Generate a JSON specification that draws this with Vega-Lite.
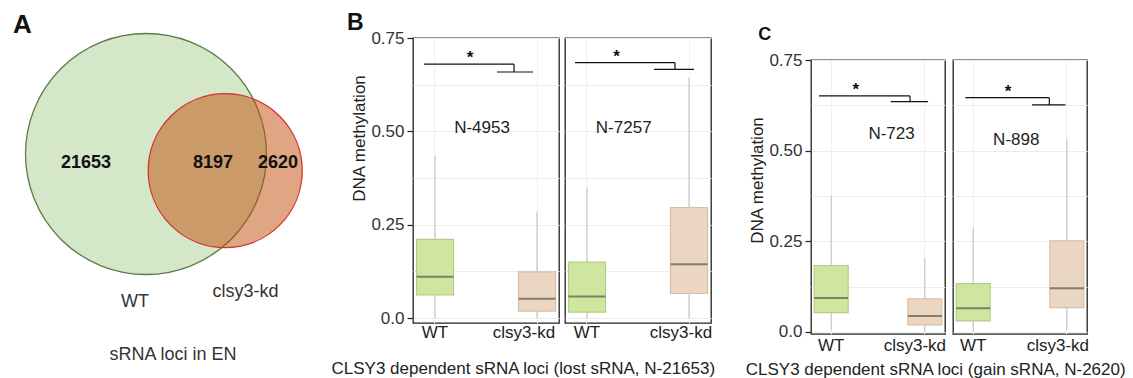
{
  "$schema": "https://vega.github.io/schema/vega-lite/v6.json",
  "padding": {"top": 11, "left": 0, "right": 0, "bottom": 0},
  "background": "white",
  "config": {
    "font": "Liberation Sans",
    "view": {"stroke": "#222222", "strokeWidth": 1.3},
    "title": {"font": "Liberation Sans", "color": "#111111"},
    "text": {"font": "Liberation Sans"}
  },
  "datasets": {
    "venn": [
      {"set": "WT", "total": 29850, "cx": 0, "cy": 0},
      {"set": "clsy3-kd", "total": 10817, "cx": 0.66, "cy": -0.139}
    ],
    "vennText": [
      {"label": "21653", "x": -0.5, "y": -0.079, "kind": "count"},
      {"label": "8197", "x": 0.558, "y": -0.079, "kind": "count"},
      {"label": "2620", "x": 1.1, "y": -0.079, "kind": "count"},
      {"label": "WT", "x": -0.092, "y": -1.232, "kind": "name"},
      {"label": "clsy3-kd", "x": 0.829, "y": -1.15, "kind": "name"},
      {"label": "sRNA loci in EN", "x": 0.225, "y": -1.675, "kind": "name"}
    ],
    "boxes": [
      {"panel": "B1", "genotype": "WT", "lo": 0, "q1": 0.062, "med": 0.111, "q3": 0.211, "hi": 0.434},
      {"panel": "B1", "genotype": "clsy3-kd", "lo": 0, "q1": 0.019, "med": 0.052, "q3": 0.124, "hi": 0.285},
      {"panel": "B2", "genotype": "WT", "lo": 0, "q1": 0.016, "med": 0.058, "q3": 0.150, "hi": 0.349},
      {"panel": "B2", "genotype": "clsy3-kd", "lo": 0, "q1": 0.066, "med": 0.144, "q3": 0.296, "hi": 0.644},
      {"panel": "C1", "genotype": "WT", "lo": 0.003, "q1": 0.053, "med": 0.093, "q3": 0.183, "hi": 0.376},
      {"panel": "C1", "genotype": "clsy3-kd", "lo": 0, "q1": 0.019, "med": 0.044, "q3": 0.091, "hi": 0.202},
      {"panel": "C2", "genotype": "WT", "lo": 0, "q1": 0.030, "med": 0.065, "q3": 0.133, "hi": 0.286},
      {"panel": "C2", "genotype": "clsy3-kd", "lo": 0.006, "q1": 0.067, "med": 0.120, "q3": 0.251, "hi": 0.531}
    ],
    "segs": [
      {"panel": "B1", "x": 0.892, "x2": 1.775, "y": 0.680, "y2": 0.680},
      {"panel": "B1", "x": 1.775, "x2": 1.775, "y": 0.680, "y2": 0.659},
      {"panel": "B1", "x": 1.608, "x2": 1.961, "y": 0.659, "y2": 0.659},
      {"panel": "B2", "x": 0.8825, "x2": 1.863, "y": 0.684, "y2": 0.684},
      {"panel": "B2", "x": 1.863, "x2": 1.863, "y": 0.684, "y2": 0.666},
      {"panel": "B2", "x": 1.657, "x2": 2.049, "y": 0.666, "y2": 0.666},
      {"panel": "C1", "x": 0.870, "x2": 1.842, "y": 0.651, "y2": 0.651},
      {"panel": "C1", "x": 1.842, "x2": 1.842, "y": 0.651, "y2": 0.635},
      {"panel": "C1", "x": 1.636, "x2": 2.035, "y": 0.635, "y2": 0.635},
      {"panel": "C2", "x": 0.916, "x2": 1.813, "y": 0.646, "y2": 0.646},
      {"panel": "C2", "x": 1.813, "x2": 1.813, "y": 0.646, "y2": 0.626},
      {"panel": "C2", "x": 1.629, "x2": 1.985, "y": 0.626, "y2": 0.626}
    ],
    "notes": [
      {"panel": "B1", "kind": "star", "x": 1.343, "y": 0.680, "label": "*"},
      {"panel": "B1", "kind": "n", "x": 1.461, "y": 0.510, "label": "N-4953"},
      {"panel": "B2", "kind": "star", "x": 1.29, "y": 0.684, "label": "*"},
      {"panel": "B2", "kind": "n", "x": 1.360, "y": 0.510, "label": "N-7257"},
      {"panel": "C1", "kind": "star", "x": 1.262, "y": 0.651, "label": "*"},
      {"panel": "C1", "kind": "n", "x": 1.645, "y": 0.547, "label": "N-723"},
      {"panel": "C2", "kind": "star", "x": 1.372, "y": 0.646, "label": "*"},
      {"panel": "C2", "kind": "n", "x": 1.460, "y": 0.528, "label": "N-898"}
    ]
  },
  "spacing": 29,
  "resolve": {"scale": {"fill": "independent", "stroke": "independent", "size": "independent", "fillOpacity": "independent"}},
  "hconcat": [
    {
      "spacing": 11,
      "resolve": {"scale": {"fill": "independent", "stroke": "independent", "size": "independent", "fillOpacity": "independent"}},
      "hconcat": [
        {
          "title": {"text": "A", "fontSize": 26, "fontWeight": "bold", "anchor": "start", "dx": 13, "dy": 7, "offset": 0},
          "width": 320,
          "height": 320,
          "view": {"stroke": null},
          "layer": [
            {
              "data": {"name": "venn"},
              "mark": {"type": "point", "shape": "circle", "filled": true, "strokeWidth": 1.3, "opacity": 1},
              "encoding": {
                "x": {"field": "cx", "type": "quantitative", "scale": {"domain": [-1.2167, 1.45], "nice": false, "zero": false}, "axis": null},
                "y": {"field": "cy", "type": "quantitative", "scale": {"domain": [-1.7, 0.9667], "nice": false, "zero": false}, "axis": null},
                "size": {"field": "total", "type": "quantitative", "scale": {"domain": [10817, 29850], "range": [23716, 58081], "zero": false}, "legend": null},
                "fill": {"field": "set", "type": "nominal", "scale": {"domain": ["WT", "clsy3-kd"], "range": ["#d4e7c9", "#c24d0a"]}, "legend": null},
                "fillOpacity": {"field": "set", "type": "nominal", "scale": {"domain": ["WT", "clsy3-kd"], "range": [1, 0.5]}, "legend": null},
                "stroke": {"field": "set", "type": "nominal", "scale": {"domain": ["WT", "clsy3-kd"], "range": ["#5b7b47", "#d63031"]}, "legend": null}
              }
            },
            {
              "data": {"name": "vennText"},
              "transform": [{"filter": "datum.kind == 'count'"}],
              "mark": {"type": "text", "baseline": "middle", "fontSize": 18, "fontWeight": "bold", "color": "#111111"},
              "encoding": {
                "x": {"field": "x", "type": "quantitative", "scale": {"domain": [-1.2167, 1.45], "nice": false, "zero": false}, "axis": null},
                "y": {"field": "y", "type": "quantitative", "scale": {"domain": [-1.7, 0.9667], "nice": false, "zero": false}, "axis": null},
                "text": {"field": "label"}
              }
            },
            {
              "data": {"name": "vennText"},
              "transform": [{"filter": "datum.kind == 'name'"}],
              "mark": {"type": "text", "baseline": "middle", "fontSize": 18, "color": "#333333"},
              "encoding": {
                "x": {"field": "x", "type": "quantitative", "scale": {"domain": [-1.2167, 1.45], "nice": false, "zero": false}, "axis": null},
                "y": {"field": "y", "type": "quantitative", "scale": {"domain": [-1.7, 0.9667], "nice": false, "zero": false}, "axis": null},
                "text": {"field": "label"}
              }
            }
          ]
        },
        {
          "title": {"text": "B", "fontSize": 23, "fontWeight": "bold", "anchor": "start", "dx": 16, "dy": 7, "offset": 0},
          "vconcat": [
            {
              "title": {"text": "CLSY3 dependent sRNA loci (lost sRNA, N-21653)", "orient": "bottom", "anchor": "middle", "fontSize": 17, "fontWeight": "normal", "color": "#222222", "offset": 20, "dx": -8},
              "spacing": 4,
              "hconcat": [
                {
                  "width": 146, "height": 285,
                  "resolve": {"scale": {"x": "independent"}},
                  "layer": [
                    {
                      "data": {"name": "boxes"},
                      "transform": [{"filter": "datum.panel == 'B1'"}],
                      "encoding": {
                        "x": {"field": "genotype", "type": "nominal", "sort": ["WT", "clsy3-kd"], "scale": {"paddingInner": 0.637, "paddingOuter": 0.034},
                          "axis": {"title": null, "ticks": false, "domain": false, "labelAngle": 0, "labelFontSize": 17, "labelColor": "#222222", "labelPadding": 1, "labelOffset": {"condition": {"test": "datum.value == 'clsy3-kd'", "value": -13}, "value": 0}, "grid": true, "gridColor": "#f0f0f0", "bandPosition": 0.5}}
                      },
                      "layer": [
                        {"mark": {"type": "rule", "color": "#c6c6c6", "strokeWidth": 1.2},
                         "encoding": {"y": {"field": "lo", "type": "quantitative", "scale": {"domain": [-0.013, 0.75], "nice": false, "zero": false},
                           "axis": {"title": "DNA methylation", "titleFontSize": 17, "titleFontWeight": "normal", "titleColor": "#222222", "titlePadding": 2, "titleY": 100, "values": [0, 0.125, 0.25, 0.375, 0.5, 0.625, 0.75], "labelExpr": "datum.value == 0 ? '0.0' : ((datum.value * 4) % 1 == 0 ? format(datum.value, '.2f') : '')", "tickOpacity": {"condition": {"test": "(datum.value * 4) % 1 != 0", "value": 0}, "value": 1}, "tickSize": 6, "tickColor": "#222222", "tickWidth": 1.2, "labelFontSize": 17, "labelColor": "#333333", "labelPadding": 3, "domain": false, "grid": true, "gridColor": "#ececec"}},
                           "y2": {"field": "hi"}}},
                        {"mark": {"type": "bar", "strokeWidth": 1.2},
                         "encoding": {"y": {"field": "q1", "type": "quantitative", "scale": {"domain": [-0.013, 0.75], "nice": false, "zero": false},
                           "axis": {"title": "DNA methylation", "titleFontSize": 17, "titleFontWeight": "normal", "titleColor": "#222222", "titlePadding": 2, "titleY": 100, "values": [0, 0.125, 0.25, 0.375, 0.5, 0.625, 0.75], "labelExpr": "datum.value == 0 ? '0.0' : ((datum.value * 4) % 1 == 0 ? format(datum.value, '.2f') : '')", "tickOpacity": {"condition": {"test": "(datum.value * 4) % 1 != 0", "value": 0}, "value": 1}, "tickSize": 6, "tickColor": "#222222", "tickWidth": 1.2, "labelFontSize": 17, "labelColor": "#333333", "labelPadding": 3, "domain": false, "grid": true, "gridColor": "#ececec"}},
                           "y2": {"field": "q3"},
                           "fill": {"field": "genotype", "type": "nominal", "scale": {"domain": ["WT", "clsy3-kd"], "range": ["#cfe6a1", "#ebd7c1"]}, "legend": null},
                           "stroke": {"field": "genotype", "type": "nominal", "scale": {"domain": ["WT", "clsy3-kd"], "range": ["#b2cf86", "#d6c0a7"]}, "legend": null}}},
                        {"mark": {"type": "tick", "size": 37, "thickness": 2, "color": "#5b5446"},
                         "encoding": {"y": {"field": "med", "type": "quantitative", "scale": {"domain": [-0.013, 0.75], "nice": false, "zero": false},
                           "axis": {"title": "DNA methylation", "titleFontSize": 17, "titleFontWeight": "normal", "titleColor": "#222222", "titlePadding": 2, "titleY": 100, "values": [0, 0.125, 0.25, 0.375, 0.5, 0.625, 0.75], "labelExpr": "datum.value == 0 ? '0.0' : ((datum.value * 4) % 1 == 0 ? format(datum.value, '.2f') : '')", "tickOpacity": {"condition": {"test": "(datum.value * 4) % 1 != 0", "value": 0}, "value": 1}, "tickSize": 6, "tickColor": "#222222", "tickWidth": 1.2, "labelFontSize": 17, "labelColor": "#333333", "labelPadding": 3, "domain": false, "grid": true, "gridColor": "#ececec"}}}}
                      ]
                    },
                    {
                      "layer": [
                        {"data": {"name": "segs"}, "transform": [{"filter": "datum.panel == 'B1'"}],
                         "mark": {"type": "rule", "color": "#111111", "strokeWidth": 1.2},
                         "encoding": {"x": {"field": "x", "type": "quantitative", "scale": {"domain": [0.7845, 2.2155], "nice": false, "zero": false}, "axis": null}, "x2": {"field": "x2"},
                           "y": {"field": "y", "type": "quantitative", "scale": {"domain": [-0.013, 0.75], "nice": false, "zero": false},
                             "axis": {"title": "DNA methylation", "titleFontSize": 17, "titleFontWeight": "normal", "titleColor": "#222222", "titlePadding": 2, "titleY": 100, "values": [0, 0.125, 0.25, 0.375, 0.5, 0.625, 0.75], "labelExpr": "datum.value == 0 ? '0.0' : ((datum.value * 4) % 1 == 0 ? format(datum.value, '.2f') : '')", "tickOpacity": {"condition": {"test": "(datum.value * 4) % 1 != 0", "value": 0}, "value": 1}, "tickSize": 6, "tickColor": "#222222", "tickWidth": 1.2, "labelFontSize": 17, "labelColor": "#333333", "labelPadding": 3, "domain": false, "grid": true, "gridColor": "#ececec"}},
                           "y2": {"field": "y2"}}},
                        {"data": {"name": "notes"}, "transform": [{"filter": "datum.panel == 'B1' && datum.kind == 'star'"}],
                         "mark": {"type": "text", "fontSize": 17, "fontWeight": "bold", "baseline": "alphabetic", "dy": -1, "color": "#111111"},
                         "encoding": {"x": {"field": "x", "type": "quantitative", "scale": {"domain": [0.7845, 2.2155], "nice": false, "zero": false}, "axis": null},
                           "y": {"field": "y", "type": "quantitative", "scale": {"domain": [-0.013, 0.75], "nice": false, "zero": false},
                             "axis": {"title": "DNA methylation", "titleFontSize": 17, "titleFontWeight": "normal", "titleColor": "#222222", "titlePadding": 2, "titleY": 100, "values": [0, 0.125, 0.25, 0.375, 0.5, 0.625, 0.75], "labelExpr": "datum.value == 0 ? '0.0' : ((datum.value * 4) % 1 == 0 ? format(datum.value, '.2f') : '')", "tickOpacity": {"condition": {"test": "(datum.value * 4) % 1 != 0", "value": 0}, "value": 1}, "tickSize": 6, "tickColor": "#222222", "tickWidth": 1.2, "labelFontSize": 17, "labelColor": "#333333", "labelPadding": 3, "domain": false, "grid": true, "gridColor": "#ececec"}},
                           "text": {"field": "label"}}},
                        {"data": {"name": "notes"}, "transform": [{"filter": "datum.panel == 'B1' && datum.kind == 'n'"}],
                         "mark": {"type": "text", "fontSize": 17, "baseline": "middle", "color": "#222222"},
                         "encoding": {"x": {"field": "x", "type": "quantitative", "scale": {"domain": [0.7845, 2.2155], "nice": false, "zero": false}, "axis": null},
                           "y": {"field": "y", "type": "quantitative", "scale": {"domain": [-0.013, 0.75], "nice": false, "zero": false},
                             "axis": {"title": "DNA methylation", "titleFontSize": 17, "titleFontWeight": "normal", "titleColor": "#222222", "titlePadding": 2, "titleY": 100, "values": [0, 0.125, 0.25, 0.375, 0.5, 0.625, 0.75], "labelExpr": "datum.value == 0 ? '0.0' : ((datum.value * 4) % 1 == 0 ? format(datum.value, '.2f') : '')", "tickOpacity": {"condition": {"test": "(datum.value * 4) % 1 != 0", "value": 0}, "value": 1}, "tickSize": 6, "tickColor": "#222222", "tickWidth": 1.2, "labelFontSize": 17, "labelColor": "#333333", "labelPadding": 3, "domain": false, "grid": true, "gridColor": "#ececec"}},
                           "text": {"field": "label"}}}
                      ]
                    }
                  ]
                },
                {
                  "width": 146, "height": 285,
                  "resolve": {"scale": {"x": "independent"}},
                  "layer": [
                    {
                      "data": {"name": "boxes"},
                      "transform": [{"filter": "datum.panel == 'B2'"}],
                      "encoding": {
                        "x": {"field": "genotype", "type": "nominal", "sort": ["WT", "clsy3-kd"], "scale": {"paddingInner": 0.637, "paddingOuter": 0.034},
                          "axis": {"title": null, "ticks": false, "domain": false, "labelAngle": 0, "labelFontSize": 17, "labelColor": "#222222", "labelPadding": 1, "labelOffset": {"condition": {"test": "datum.value == 'clsy3-kd'", "value": -8}, "value": 0}, "grid": true, "gridColor": "#f0f0f0", "bandPosition": 0.5}}
                      },
                      "layer": [
                        {"mark": {"type": "rule", "color": "#c6c6c6", "strokeWidth": 1.2},
                         "encoding": {"y": {"field": "lo", "type": "quantitative", "scale": {"domain": [-0.013, 0.75], "nice": false, "zero": false},
                           "axis": {"title": null, "labels": false, "ticks": false, "domain": false, "grid": true, "gridColor": "#ececec", "values": [0, 0.125, 0.25, 0.375, 0.5, 0.625, 0.75]}},
                           "y2": {"field": "hi"}}},
                        {"mark": {"type": "bar", "strokeWidth": 1.2},
                         "encoding": {"y": {"field": "q1", "type": "quantitative", "scale": {"domain": [-0.013, 0.75], "nice": false, "zero": false},
                           "axis": {"title": null, "labels": false, "ticks": false, "domain": false, "grid": true, "gridColor": "#ececec", "values": [0, 0.125, 0.25, 0.375, 0.5, 0.625, 0.75]}},
                           "y2": {"field": "q3"},
                           "fill": {"field": "genotype", "type": "nominal", "scale": {"domain": ["WT", "clsy3-kd"], "range": ["#cfe6a1", "#ebd7c1"]}, "legend": null},
                           "stroke": {"field": "genotype", "type": "nominal", "scale": {"domain": ["WT", "clsy3-kd"], "range": ["#b2cf86", "#d6c0a7"]}, "legend": null}}},
                        {"mark": {"type": "tick", "size": 37, "thickness": 2, "color": "#5b5446"},
                         "encoding": {"y": {"field": "med", "type": "quantitative", "scale": {"domain": [-0.013, 0.75], "nice": false, "zero": false},
                           "axis": {"title": null, "labels": false, "ticks": false, "domain": false, "grid": true, "gridColor": "#ececec", "values": [0, 0.125, 0.25, 0.375, 0.5, 0.625, 0.75]}}}}
                      ]
                    },
                    {
                      "layer": [
                        {"data": {"name": "segs"}, "transform": [{"filter": "datum.panel == 'B2'"}],
                         "mark": {"type": "rule", "color": "#111111", "strokeWidth": 1.2},
                         "encoding": {"x": {"field": "x", "type": "quantitative", "scale": {"domain": [0.7845, 2.2155], "nice": false, "zero": false}, "axis": null}, "x2": {"field": "x2"},
                           "y": {"field": "y", "type": "quantitative", "scale": {"domain": [-0.013, 0.75], "nice": false, "zero": false},
                             "axis": {"title": null, "labels": false, "ticks": false, "domain": false, "grid": true, "gridColor": "#ececec", "values": [0, 0.125, 0.25, 0.375, 0.5, 0.625, 0.75]}},
                           "y2": {"field": "y2"}}},
                        {"data": {"name": "notes"}, "transform": [{"filter": "datum.panel == 'B2' && datum.kind == 'star'"}],
                         "mark": {"type": "text", "fontSize": 17, "fontWeight": "bold", "baseline": "alphabetic", "dy": -1, "color": "#111111"},
                         "encoding": {"x": {"field": "x", "type": "quantitative", "scale": {"domain": [0.7845, 2.2155], "nice": false, "zero": false}, "axis": null},
                           "y": {"field": "y", "type": "quantitative", "scale": {"domain": [-0.013, 0.75], "nice": false, "zero": false},
                             "axis": {"title": null, "labels": false, "ticks": false, "domain": false, "grid": true, "gridColor": "#ececec", "values": [0, 0.125, 0.25, 0.375, 0.5, 0.625, 0.75]}},
                           "text": {"field": "label"}}},
                        {"data": {"name": "notes"}, "transform": [{"filter": "datum.panel == 'B2' && datum.kind == 'n'"}],
                         "mark": {"type": "text", "fontSize": 17, "baseline": "middle", "color": "#222222"},
                         "encoding": {"x": {"field": "x", "type": "quantitative", "scale": {"domain": [0.7845, 2.2155], "nice": false, "zero": false}, "axis": null},
                           "y": {"field": "y", "type": "quantitative", "scale": {"domain": [-0.013, 0.75], "nice": false, "zero": false},
                             "axis": {"title": null, "labels": false, "ticks": false, "domain": false, "grid": true, "gridColor": "#ececec", "values": [0, 0.125, 0.25, 0.375, 0.5, 0.625, 0.75]}},
                           "text": {"field": "label"}}}
                      ]
                    }
                  ]
                }
              ]
            }
          ]
        }
      ]
    },
    {
      "title": {"text": "C", "fontSize": 18, "fontWeight": "bold", "anchor": "start", "dx": 13, "dy": 5.5, "offset": 0},
      "spacing": 0,
      "vconcat": [
        {
          "width": 1, "height": 11.5,
          "view": {"stroke": null},
          "data": {"values": [{"v": 0}]},
          "mark": {"type": "point", "opacity": 0},
          "encoding": {}
        },
        {
          "title": {"text": "CLSY3 dependent sRNA loci (gain sRNA, N-2620)", "orient": "bottom", "anchor": "middle", "fontSize": 17, "fontWeight": "normal", "color": "#222222", "offset": 8, "dx": 17},
          "spacing": 5,
          "hconcat": [
            {
              "width": 134, "height": 274,
              "resolve": {"scale": {"x": "independent"}},
              "layer": [
                {
                  "data": {"name": "boxes"},
                  "transform": [{"filter": "datum.panel == 'C1'"}],
                  "encoding": {
                    "x": {"field": "genotype", "type": "nominal", "sort": ["WT", "clsy3-kd"], "scale": {"paddingInner": 0.637, "paddingOuter": 0.034},
                      "axis": {"title": null, "ticks": false, "domain": false, "labelAngle": 0, "labelFontSize": 17, "labelColor": "#222222", "labelPadding": 3, "labelOffset": {"condition": {"test": "datum.value == 'clsy3-kd'", "value": -10}, "value": 0}, "grid": true, "gridColor": "#f0f0f0", "bandPosition": 0.5}}
                  },
                  "layer": [
                    {"mark": {"type": "rule", "color": "#c6c6c6", "strokeWidth": 1.2},
                     "encoding": {"y": {"field": "lo", "type": "quantitative", "scale": {"domain": [-0.006, 0.75], "nice": false, "zero": false},
                       "axis": {"title": "DNA methylation", "titleFontSize": 17, "titleFontWeight": "normal", "titleColor": "#222222", "titlePadding": 2, "titleY": 120, "values": [0, 0.125, 0.25, 0.375, 0.5, 0.625, 0.75], "labelExpr": "datum.value == 0 ? '0.0' : ((datum.value * 4) % 1 == 0 ? format(datum.value, '.2f') : '')", "tickOpacity": {"condition": {"test": "(datum.value * 4) % 1 != 0", "value": 0}, "value": 1}, "tickSize": 6, "tickColor": "#222222", "tickWidth": 1.2, "labelFontSize": 17, "labelColor": "#333333", "labelPadding": 3, "domain": false, "grid": true, "gridColor": "#ececec"}},
                       "y2": {"field": "hi"}}},
                    {"mark": {"type": "bar", "strokeWidth": 1.2},
                     "encoding": {"y": {"field": "q1", "type": "quantitative", "scale": {"domain": [-0.006, 0.75], "nice": false, "zero": false},
                       "axis": {"title": "DNA methylation", "titleFontSize": 17, "titleFontWeight": "normal", "titleColor": "#222222", "titlePadding": 2, "titleY": 120, "values": [0, 0.125, 0.25, 0.375, 0.5, 0.625, 0.75], "labelExpr": "datum.value == 0 ? '0.0' : ((datum.value * 4) % 1 == 0 ? format(datum.value, '.2f') : '')", "tickOpacity": {"condition": {"test": "(datum.value * 4) % 1 != 0", "value": 0}, "value": 1}, "tickSize": 6, "tickColor": "#222222", "tickWidth": 1.2, "labelFontSize": 17, "labelColor": "#333333", "labelPadding": 3, "domain": false, "grid": true, "gridColor": "#ececec"}},
                       "y2": {"field": "q3"},
                       "fill": {"field": "genotype", "type": "nominal", "scale": {"domain": ["WT", "clsy3-kd"], "range": ["#cfe6a1", "#ebd7c1"]}, "legend": null},
                       "stroke": {"field": "genotype", "type": "nominal", "scale": {"domain": ["WT", "clsy3-kd"], "range": ["#b2cf86", "#d6c0a7"]}, "legend": null}}},
                    {"mark": {"type": "tick", "size": 34, "thickness": 2, "color": "#5b5446"},
                     "encoding": {"y": {"field": "med", "type": "quantitative", "scale": {"domain": [-0.006, 0.75], "nice": false, "zero": false},
                       "axis": {"title": "DNA methylation", "titleFontSize": 17, "titleFontWeight": "normal", "titleColor": "#222222", "titlePadding": 2, "titleY": 120, "values": [0, 0.125, 0.25, 0.375, 0.5, 0.625, 0.75], "labelExpr": "datum.value == 0 ? '0.0' : ((datum.value * 4) % 1 == 0 ? format(datum.value, '.2f') : '')", "tickOpacity": {"condition": {"test": "(datum.value * 4) % 1 != 0", "value": 0}, "value": 1}, "tickSize": 6, "tickColor": "#222222", "tickWidth": 1.2, "labelFontSize": 17, "labelColor": "#333333", "labelPadding": 3, "domain": false, "grid": true, "gridColor": "#ececec"}}}}
                  ]
                },
                {
                  "layer": [
                    {"data": {"name": "segs"}, "transform": [{"filter": "datum.panel == 'C1'"}],
                     "mark": {"type": "rule", "color": "#111111", "strokeWidth": 1.2},
                     "encoding": {"x": {"field": "x", "type": "quantitative", "scale": {"domain": [0.7845, 2.2155], "nice": false, "zero": false}, "axis": null}, "x2": {"field": "x2"},
                       "y": {"field": "y", "type": "quantitative", "scale": {"domain": [-0.006, 0.75], "nice": false, "zero": false},
                         "axis": {"title": "DNA methylation", "titleFontSize": 17, "titleFontWeight": "normal", "titleColor": "#222222", "titlePadding": 2, "titleY": 120, "values": [0, 0.125, 0.25, 0.375, 0.5, 0.625, 0.75], "labelExpr": "datum.value == 0 ? '0.0' : ((datum.value * 4) % 1 == 0 ? format(datum.value, '.2f') : '')", "tickOpacity": {"condition": {"test": "(datum.value * 4) % 1 != 0", "value": 0}, "value": 1}, "tickSize": 6, "tickColor": "#222222", "tickWidth": 1.2, "labelFontSize": 17, "labelColor": "#333333", "labelPadding": 3, "domain": false, "grid": true, "gridColor": "#ececec"}},
                       "y2": {"field": "y2"}}},
                    {"data": {"name": "notes"}, "transform": [{"filter": "datum.panel == 'C1' && datum.kind == 'star'"}],
                     "mark": {"type": "text", "fontSize": 17, "fontWeight": "bold", "baseline": "alphabetic", "dy": -1, "color": "#111111"},
                     "encoding": {"x": {"field": "x", "type": "quantitative", "scale": {"domain": [0.7845, 2.2155], "nice": false, "zero": false}, "axis": null},
                       "y": {"field": "y", "type": "quantitative", "scale": {"domain": [-0.006, 0.75], "nice": false, "zero": false},
                         "axis": {"title": "DNA methylation", "titleFontSize": 17, "titleFontWeight": "normal", "titleColor": "#222222", "titlePadding": 2, "titleY": 120, "values": [0, 0.125, 0.25, 0.375, 0.5, 0.625, 0.75], "labelExpr": "datum.value == 0 ? '0.0' : ((datum.value * 4) % 1 == 0 ? format(datum.value, '.2f') : '')", "tickOpacity": {"condition": {"test": "(datum.value * 4) % 1 != 0", "value": 0}, "value": 1}, "tickSize": 6, "tickColor": "#222222", "tickWidth": 1.2, "labelFontSize": 17, "labelColor": "#333333", "labelPadding": 3, "domain": false, "grid": true, "gridColor": "#ececec"}},
                       "text": {"field": "label"}}},
                    {"data": {"name": "notes"}, "transform": [{"filter": "datum.panel == 'C1' && datum.kind == 'n'"}],
                     "mark": {"type": "text", "fontSize": 17, "baseline": "middle", "color": "#222222"},
                     "encoding": {"x": {"field": "x", "type": "quantitative", "scale": {"domain": [0.7845, 2.2155], "nice": false, "zero": false}, "axis": null},
                       "y": {"field": "y", "type": "quantitative", "scale": {"domain": [-0.006, 0.75], "nice": false, "zero": false},
                         "axis": {"title": "DNA methylation", "titleFontSize": 17, "titleFontWeight": "normal", "titleColor": "#222222", "titlePadding": 2, "titleY": 120, "values": [0, 0.125, 0.25, 0.375, 0.5, 0.625, 0.75], "labelExpr": "datum.value == 0 ? '0.0' : ((datum.value * 4) % 1 == 0 ? format(datum.value, '.2f') : '')", "tickOpacity": {"condition": {"test": "(datum.value * 4) % 1 != 0", "value": 0}, "value": 1}, "tickSize": 6, "tickColor": "#222222", "tickWidth": 1.2, "labelFontSize": 17, "labelColor": "#333333", "labelPadding": 3, "domain": false, "grid": true, "gridColor": "#ececec"}},
                       "text": {"field": "label"}}}
                  ]
                }
              ]
            },
            {
              "width": 134, "height": 274,
              "resolve": {"scale": {"x": "independent"}},
              "layer": [
                {
                  "data": {"name": "boxes"},
                  "transform": [{"filter": "datum.panel == 'C2'"}],
                  "encoding": {
                    "x": {"field": "genotype", "type": "nominal", "sort": ["WT", "clsy3-kd"], "scale": {"paddingInner": 0.637, "paddingOuter": 0.034},
                      "axis": {"title": null, "ticks": false, "domain": false, "labelAngle": 0, "labelFontSize": 17, "labelColor": "#222222", "labelPadding": 3, "labelOffset": {"condition": {"test": "datum.value == 'clsy3-kd'", "value": -9}, "value": 0}, "grid": true, "gridColor": "#f0f0f0", "bandPosition": 0.5}}
                  },
                  "layer": [
                    {"mark": {"type": "rule", "color": "#c6c6c6", "strokeWidth": 1.2},
                     "encoding": {"y": {"field": "lo", "type": "quantitative", "scale": {"domain": [-0.006, 0.75], "nice": false, "zero": false},
                       "axis": {"title": null, "labels": false, "ticks": false, "domain": false, "grid": true, "gridColor": "#ececec", "values": [0, 0.125, 0.25, 0.375, 0.5, 0.625, 0.75]}},
                       "y2": {"field": "hi"}}},
                    {"mark": {"type": "bar", "strokeWidth": 1.2},
                     "encoding": {"y": {"field": "q1", "type": "quantitative", "scale": {"domain": [-0.006, 0.75], "nice": false, "zero": false},
                       "axis": {"title": null, "labels": false, "ticks": false, "domain": false, "grid": true, "gridColor": "#ececec", "values": [0, 0.125, 0.25, 0.375, 0.5, 0.625, 0.75]}},
                       "y2": {"field": "q3"},
                       "fill": {"field": "genotype", "type": "nominal", "scale": {"domain": ["WT", "clsy3-kd"], "range": ["#cfe6a1", "#ebd7c1"]}, "legend": null},
                       "stroke": {"field": "genotype", "type": "nominal", "scale": {"domain": ["WT", "clsy3-kd"], "range": ["#b2cf86", "#d6c0a7"]}, "legend": null}}},
                    {"mark": {"type": "tick", "size": 34, "thickness": 2, "color": "#5b5446"},
                     "encoding": {"y": {"field": "med", "type": "quantitative", "scale": {"domain": [-0.006, 0.75], "nice": false, "zero": false},
                       "axis": {"title": null, "labels": false, "ticks": false, "domain": false, "grid": true, "gridColor": "#ececec", "values": [0, 0.125, 0.25, 0.375, 0.5, 0.625, 0.75]}}}}
                  ]
                },
                {
                  "layer": [
                    {"data": {"name": "segs"}, "transform": [{"filter": "datum.panel == 'C2'"}],
                     "mark": {"type": "rule", "color": "#111111", "strokeWidth": 1.2},
                     "encoding": {"x": {"field": "x", "type": "quantitative", "scale": {"domain": [0.7845, 2.2155], "nice": false, "zero": false}, "axis": null}, "x2": {"field": "x2"},
                       "y": {"field": "y", "type": "quantitative", "scale": {"domain": [-0.006, 0.75], "nice": false, "zero": false},
                         "axis": {"title": null, "labels": false, "ticks": false, "domain": false, "grid": true, "gridColor": "#ececec", "values": [0, 0.125, 0.25, 0.375, 0.5, 0.625, 0.75]}},
                       "y2": {"field": "y2"}}},
                    {"data": {"name": "notes"}, "transform": [{"filter": "datum.panel == 'C2' && datum.kind == 'star'"}],
                     "mark": {"type": "text", "fontSize": 17, "fontWeight": "bold", "baseline": "alphabetic", "dy": -1, "color": "#111111"},
                     "encoding": {"x": {"field": "x", "type": "quantitative", "scale": {"domain": [0.7845, 2.2155], "nice": false, "zero": false}, "axis": null},
                       "y": {"field": "y", "type": "quantitative", "scale": {"domain": [-0.006, 0.75], "nice": false, "zero": false},
                         "axis": {"title": null, "labels": false, "ticks": false, "domain": false, "grid": true, "gridColor": "#ececec", "values": [0, 0.125, 0.25, 0.375, 0.5, 0.625, 0.75]}},
                       "text": {"field": "label"}}},
                    {"data": {"name": "notes"}, "transform": [{"filter": "datum.panel == 'C2' && datum.kind == 'n'"}],
                     "mark": {"type": "text", "fontSize": 17, "baseline": "middle", "color": "#222222"},
                     "encoding": {"x": {"field": "x", "type": "quantitative", "scale": {"domain": [0.7845, 2.2155], "nice": false, "zero": false}, "axis": null},
                       "y": {"field": "y", "type": "quantitative", "scale": {"domain": [-0.006, 0.75], "nice": false, "zero": false},
                         "axis": {"title": null, "labels": false, "ticks": false, "domain": false, "grid": true, "gridColor": "#ececec", "values": [0, 0.125, 0.25, 0.375, 0.5, 0.625, 0.75]}},
                       "text": {"field": "label"}}}
                  ]
                }
              ]
            }
          ]
        }
      ]
    }
  ]
}
